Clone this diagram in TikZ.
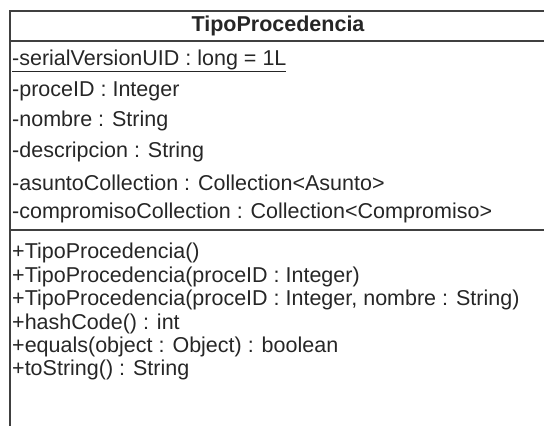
\documentclass[tikz,border=0pt]{standalone}
\usepackage{fontspec}
\setmainfont{Liberation Sans}
\tikzset{
  fila/.style={anchor=west,inner sep=0pt,text=black!85,font=\fontsize{21.5}{24}\selectfont},
  borde/.style={line width=2pt,draw=black!75}
}
\begin{document}
\begin{tikzpicture}[x=1pt,y=-1pt]
  \useasboundingbox (0,0) rectangle (544,426);
  % Caja de la clase (cortada a la derecha y abajo)
  \draw[borde] (552,11) -- (10,11) -- (10,432);
  \draw[borde] (10,41) -- (552,41);
  \draw[borde] (10,230) -- (552,230);
  % Nombre
  \node[fila,anchor=center,font=\bfseries\fontsize{21.5}{24}\selectfont] (clase) at (278,26) {TipoProcedencia};
  % Atributos
  \node[fila] (serial) at (12,61) {\underline{-serialVersionUID : long = 1L}};
  \node[fila] (proce) at (12,91) {-proceID : Integer};
  \node[fila] (nombre) at (12,121) {-nombre : String};
  \node[fila] (desc) at (12,152) {-descripcion : String};
  \node[fila] (asunto) at (12,183) {-asuntoCollection : Collection<Asunto>};
  \node[fila] (compr) at (12,213) {-compromisoCollection : Collection<Compromiso>};
  % Operaciones
  \node[fila] (ctorA) at (12,253) {+TipoProcedencia()};
  \node[fila] (ctorB) at (12,277) {+TipoProcedencia(proceID : Integer)};
  \node[fila] (ctorC) at (12,300) {+TipoProcedencia(proceID : Integer, nombre : String)};
  \node[fila] (hash) at (12,324) {+hashCode() : int};
  \node[fila] (equals) at (12,347) {+equals(object : Object) : boolean};
  \node[fila] (tostr) at (12,370) {+toString() : String};
\end{tikzpicture}
\end{document}
